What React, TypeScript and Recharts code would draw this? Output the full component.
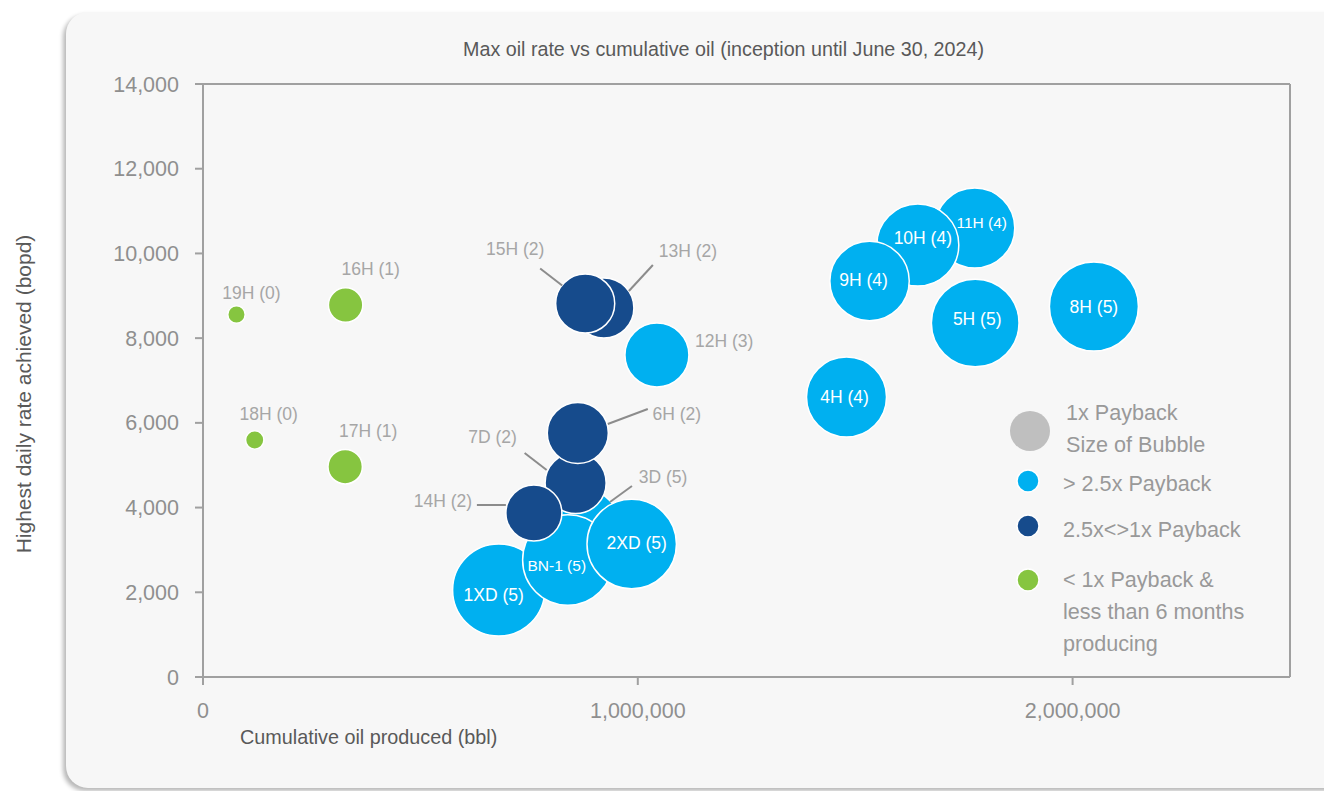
import { ScatterChart, Scatter, XAxis, YAxis, ZAxis, ReferenceLine } from "recharts";

// > 2.5x payback wells (drawn first, bottom layer)
const lightNames = ["3D", "1XD", "BN-1", "2XD", "12H", "4H", "11H", "10H", "9H", "5H", "8H"];
const lightTags = [5, 5, 5, 5, 3, 4, 4, 4, 4, 5, 5];
const lightCum = [867000, 680000, 839000, 986000, 1044000, 1480000, 1775000, 1644000, 1533000, 1776000, 2049000];
const lightRate = [3470, 2054, 2762, 3140, 7602, 6610, 10600, 10199, 9349, 8358, 8747];
const lightMult = [4.4, 5.3, 5.1, 5.0, 2.56, 4.0, 4.0, 4.2, 3.94, 4.8, 4.95];

// 2.5x <> 1x payback
const darkNames = ["13H", "15H", "7D", "6H", "14H"];
const darkTags = [2, 2, 2, 2, 2];
const darkCum = [922000, 879000, 857000, 862000, 761000];
const darkRate = [8712, 8818, 4580, 5761, 3872];
const darkMult = [2.25, 2.18, 2.33, 2.33, 1.96];

// < 1x payback & less than 6 months producing
const greenNames = ["19H", "16H", "18H", "17H"];
const greenTags = [0, 1, 0, 1];
const greenCum = [77000, 328000, 119000, 327000];
const greenRate = [8558, 8782, 5595, 4965];
const greenMult = [0.19, 0.74, 0.21, 0.74];

const xTicks = [0, 1000000, 2000000];
const yTicks = [0, 2000, 4000, 6000, 8000, 10000, 12000, 14000];

const build = (names: string[], tags: number[], cum: number[], rate: number[], mult: number[]) =>
  names.map((n, i) => ({ name: n, tag: tags[i], cum: cum[i], rate: rate[i], mult: mult[i] }));

const light = build(lightNames, lightTags, lightCum, lightRate, lightMult);
const dark = build(darkNames, darkTags, darkCum, darkRate, darkMult);
const green = build(greenNames, greenTags, greenCum, greenRate, greenMult);
const all = [...light, ...dark, ...green];

const LIGHT = "#00b0f0";
const DARK = "#164b8c";
const GREEN = "#86c540";
const FONT = "'Liberation Sans', Arial, sans-serif";

// label placement, offsets from bubble centre
const LABELS: any = {
  "1XD": { dx: -5, dy: 5, inside: true },
  "BN-1": { dx: -11, dy: 5, inside: true, small: true },
  "2XD": { dx: 5, dy: -1, inside: true },
  "4H": { dx: -2, dy: 0, inside: true },
  "9H": { dx: -6, dy: -1, inside: true },
  "10H": { dx: 5, dy: -7, inside: true },
  "11H": { dx: 7, dy: -6, inside: true, small: true },
  "5H": { dx: 2, dy: -4, inside: true },
  "8H": { dx: 0, dy: 0, inside: true },
  "12H": { dx: 38, dy: -14, anchor: "start" },
  "3D": { dx: 83, dy: -53, line: [52, -44, 30, -28] },
  "13H": { dx: 84, dy: -57, line: [49, -43, 25, -17] },
  "15H": { dx: -70, dy: -54, line: [-45, -35, -23, -18] },
  "6H": { dx: 99, dy: -19, line: [70, -24, 30, -9] },
  "7D": { dx: -83, dy: -46, line: [-51, -30, -29, -13] },
  "14H": { dx: -91, dy: -12, line: [-57, -8, -28, -8] },
  "19H": { dx: 15, dy: -22 },
  "16H": { dx: 25, dy: -36 },
  "18H": { dx: 14, dy: -26 },
  "17H": { dx: 23, dy: -36 },
};

const bubble = (fill: string) => (props: any) => {
  const { cx, cy } = props;
  const r = props.width ? props.width / 2 : Math.sqrt((props.size || 0) / Math.PI);
  return <circle cx={cx} cy={cy} r={r} fill={fill} stroke="#ffffff" strokeWidth={1.5} />;
};

const BubbleLabel = (props: any) => {
  const { cx, cy, payload } = props;
  const l = LABELS[payload.name] || { dx: 0, dy: 0 };
  return (
    <g>
      {l.line && (
        <line
          x1={cx + l.line[0]}
          y1={cy + l.line[1]}
          x2={cx + l.line[2]}
          y2={cy + l.line[3]}
          stroke="#8c8c8c"
          strokeWidth={2}
        />
      )}
      <text
        x={cx + l.dx}
        y={cy + l.dy}
        textAnchor={l.anchor || "middle"}
        dominantBaseline="central"
        fill={l.inside ? "#ffffff" : "#a6a6a6"}
        fontSize={l.small ? 15.5 : 17.5}
        fontFamily={FONT}
      >
        {`${payload.name} (${payload.tag})`}
      </text>
    </g>
  );
};

const legendText = { color: "#999999", fontSize: 21.6, lineHeight: "32px", fontFamily: FONT } as const;
const tickStyle = { fill: "#8f8f8f", fontSize: 21.5, fontFamily: FONT };

export default function App() {
  return (
    <div style={{ position: "relative", width: 1324, height: 791, background: "#ffffff", overflow: "hidden" }}>
      <style>{"body{margin:0}"}</style>
      <div
        style={{
          position: "absolute",
          left: 66,
          top: 12,
          width: 1290,
          height: 776,
          background: "#f7f7f7",
          borderRadius: 22,
          boxShadow: "-3px 3px 4px rgba(0,0,0,0.28)",
        }}
      />
      <div
        style={{
          position: "absolute",
          left: 0,
          width: 1447,
          top: 38,
          textAlign: "center",
          fontFamily: FONT,
          fontSize: 19.7,
          color: "#595959",
        }}
      >
        Max oil rate vs cumulative oil (inception until June 30, 2024)
      </div>
      <div
        style={{
          position: "absolute",
          left: 24,
          top: 394,
          transform: "translate(-50%, -50%) rotate(-90deg)",
          whiteSpace: "nowrap",
          fontFamily: FONT,
          fontSize: 21,
          color: "#595959",
        }}
      >
        Highest daily rate achieved (bopd)
      </div>
      <div
        style={{
          position: "absolute",
          left: 240,
          top: 726,
          whiteSpace: "nowrap",
          fontFamily: FONT,
          fontSize: 19.8,
          color: "#595959",
        }}
      >
        Cumulative oil produced (bbl)
      </div>
      <div style={{ position: "absolute", left: 0, top: 0 }}>
        <ScatterChart width={1324} height={791} margin={{ top: 84, right: 34, left: 143, bottom: 54 }}>
          <XAxis
            type="number"
            dataKey="cum"
            domain={[0, 2500000]}
            ticks={xTicks}
            allowDataOverflow
            height={60}
            tickSize={8}
            tickMargin={18}
            stroke="#a0a0a0"
            strokeWidth={2}
            tick={tickStyle}
            tickFormatter={(v: number) => v.toLocaleString("en-US")}
          />
          <YAxis
            type="number"
            dataKey="rate"
            domain={[0, 14000]}
            ticks={yTicks}
            allowDataOverflow
            width={60}
            tickSize={8}
            tickMargin={16}
            stroke="#a0a0a0"
            strokeWidth={2}
            tick={tickStyle}
            tickFormatter={(v: number) => v.toLocaleString("en-US")}
          />
          <ZAxis type="number" dataKey="mult" domain={[0, 6]} range={[0, 2400 * Math.PI]} />
          <ReferenceLine y={14000} stroke="#a0a0a0" strokeWidth={2} />
          <ReferenceLine x={2500000} stroke="#a0a0a0" strokeWidth={2} />
          <Scatter data={light} shape={bubble(LIGHT)} isAnimationActive={false} />
          <Scatter data={dark} shape={bubble(DARK)} isAnimationActive={false} />
          <Scatter data={green} shape={bubble(GREEN)} isAnimationActive={false} />
          <Scatter data={all} shape={BubbleLabel} isAnimationActive={false} />
        </ScatterChart>
      </div>
      <svg style={{ position: "absolute", left: 0, top: 0 }} width={1324} height={791}>
        <circle cx={1030} cy={431} r={20} fill="#bfbfbf" />
        <circle cx={1028} cy={481} r={11} fill={LIGHT} stroke="#fff" strokeWidth={1.5} />
        <circle cx={1028} cy={526} r={11} fill={DARK} stroke="#fff" strokeWidth={1.5} />
        <circle cx={1028} cy={580} r={11} fill={GREEN} stroke="#fff" strokeWidth={1.5} />
      </svg>
      <div style={{ ...legendText, position: "absolute", left: 1066, top: 397 }}>
        1x Payback
        <br />
        Size of Bubble
      </div>
      <div style={{ ...legendText, position: "absolute", left: 1063, top: 468 }}>&gt; 2.5x Payback</div>
      <div style={{ ...legendText, position: "absolute", left: 1063, top: 514 }}>2.5x&lt;&gt;1x Payback</div>
      <div style={{ ...legendText, position: "absolute", left: 1063, top: 564 }}>
        &lt; 1x Payback &amp;
        <br />
        less than 6 months
        <br />
        producing
      </div>
    </div>
  );
}
